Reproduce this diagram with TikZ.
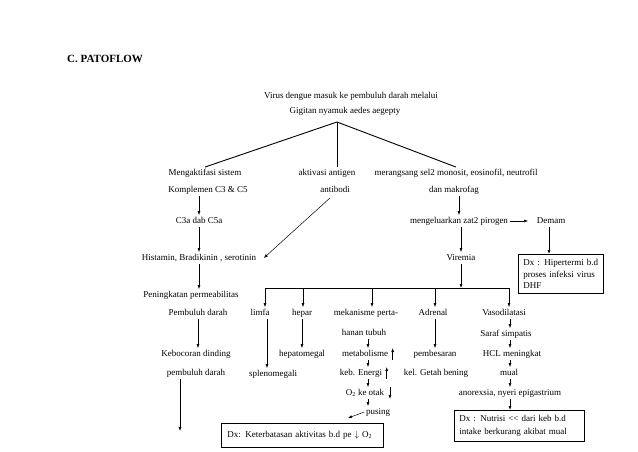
\documentclass[tikz,border=0pt]{standalone}
\usepackage{fontspec}
\setmainfont{Liberation Serif}
\usetikzlibrary{arrows.meta, positioning, calc}
\colorlet{warnaGaris}{black}
\colorlet{warnaTeks}{black}
\tikzset{
  teks/.style={
    inner sep=1.5pt, text height=6.5pt, text depth=2pt,
    font=\fontsize{9}{11}\selectfont, text=warnaTeks
  },
  kotakDx/.style={
    draw=warnaGaris, line width=0.8pt, inner sep=5pt,
    align=left, font=\fontsize{9}{11.5}\selectfont, text=warnaTeks
  },
  judul/.style={font=\fontsize{11}{13}\selectfont\bfseries, inner sep=0pt},
  panah/.style={-{Latex[length=4pt, width=3pt]}, line width=0.6pt, warnaGaris},
  garis/.style={line width=0.7pt, warnaGaris},
  garisCabang/.style={line width=0.9pt, warnaGaris},
}

\begin{document}
\begin{tikzpicture}[x=1pt, y=-1pt]
    \useasboundingbox (0,0) rectangle (638,452);
    % Judul
    \node[judul, anchor=west] (judul) at (67,59) {C. PATOFLOW};

    % Awal
    \node[teks] (virus) at (351,96) {Virus dengue masuk ke pembuluh darah melalui};
    \node[teks] (gigitan) at (345,111) {Gigitan nyamuk aedes aegepty};
    \coordinate (cabang) at (337,122);

    % Cabang kiri
    \node[teks] (kom1) at (205,173) {Mengaktifasi sistem};
    \node[teks] (kom2) at (208,190) {Komplemen C3 \& C5};
    \node[teks] (c3a) at (199,221) {C3a dab C5a};
    \node[teks] (hist) at (199,258) {Histamin, Bradikinin , serotinin};
    \node[teks] (perm1) at (191,295) {Peningkatan permeabilitas};
    \node[teks] (perm2) at (198,313) {Pembuluh darah};
    \node[teks] (boc1) at (196,354) {Kebocoran dinding};
    \node[teks] (boc2) at (196,373) {pembuluh darah};
    \coordinate (ujungKiri) at (180,431);

    % Cabang tengah
    \node[teks] (akt1) at (327,173) {aktivasi antigen};
    \node[teks] (akt2) at (335,190) {antibodi};

    % Cabang kanan
    \node[teks] (rang1) at (456,173) {merangsang sel2 monosit, eosinofil, neutrofil};
    \node[teks] (rang2) at (454,190) {dan makrofag};
    \node[teks] (pirogen) at (459,221) {mengeluarkan zat2 pirogen};
    \node[teks] (demam) at (551,221) {Demam};
    \node[kotakDx, text width=75pt, anchor=north west] (dxHiper) at (518,254)
        {Dx : Hipertermi b.d\\proses infeksi virus\\DHF};
    \node[teks] (viremia) at (461,258) {Viremia};

    % Percabangan Viremia
    \coordinate (batangKiri) at (265,288);
    \coordinate (batangKanan) at (509,288);
    \coordinate (sumbuMek) at (368,0);
    \coordinate (sumbuVaso) at (510,0);
    \node[teks] (limfa) at (260,313) {limfa};
    \node[teks] (hepar) at (302,313) {hepar};
    \node[teks] (mek1) at (366,313) {mekanisme perta-};
    \node[teks] (adrenal) at (433,313) {Adrenal};
    \node[teks] (vaso) at (504,313) {Vasodilatasi};

    \node[teks] (spleno) at (273,374) {splenomegali};
    \node[teks] (hepato) at (302,354) {hepatomegal};
    \node[teks] (mek2) at (364,333) {hanan tubuh};
    \node[teks] (metab) at (365,354) {metabolisme};
    \node[teks] (energi) at (361,373) {keb. Energi};
    \node[teks] (otak) at (365,393) {O\textsubscript{2} ke otak};
    \node[teks] (pusing) at (378,412) {pusing};
    \coordinate (ujungPusing) at (348,418);
    \node[kotakDx, text width=150pt, inner sep=6pt, minimum height=24pt, anchor=north west] (dxAktif) at (221,423)
        {Dx: Keterbatasan aktivitas b.d pe $\downarrow$ O\textsubscript{2}};

    \node[teks] (besar) at (435,354) {pembesaran};
    \node[teks] (getah) at (436,373) {kel. Getah bening};

    \node[teks] (saraf) at (506,334) {Saraf simpatis};
    \node[teks] (hcl) at (512,354) {HCL meningkat};
    \node[teks] (mual) at (509,373) {mual};
    \node[teks] (anor) at (510,393) {anorexsia, nyeri epigastrium};
    \node[kotakDx, text width=120pt, font=\fontsize{9}{13}\selectfont, anchor=north west] (dxNutrisi) at (454,410)
        {Dx : Nutrisi <\kern0pt< dari keb b.d\\intake berkurang akibat mual};

    % Garis cabang
    \draw[garisCabang] (cabang) -- (kom1.north);
    \draw[garisCabang] (cabang) -- (cabang |- akt1.north);
    \draw[garisCabang] (cabang) -- (rang1.north);

    % Panah kiri
    \draw[panah] (c3a.north |- kom2.south) -- (c3a.north);
    \draw[panah] (c3a) -- (hist);
    \draw[panah] (hist.south) -- (hist.south |- perm1.north);
    \draw[panah] (perm2.south) -- (perm2.south |- boc1.north);
    \draw[panah] (boc2.south -| ujungKiri) -- (ujungKiri);
    \draw[panah, line width=0.5pt] ([xshift=-5pt, yshift=-2pt]akt2.south) -- ([xshift=6pt]hist.east);

    % Panah kanan
    \draw[panah] (pirogen.north |- rang2.south) -- (pirogen.north);
    \draw[panah, shorten >=7pt] (pirogen.east) -- (demam.west);
    \draw[panah] ([xshift=-2pt]demam.south) -- ([xshift=-2pt]demam.south |- dxHiper.north);
    \draw[panah] (viremia.north |- pirogen.south) -- (viremia.north);
    \draw[panah] (viremia.south) -- (viremia.south |- batangKiri);
    \draw[garis] (batangKiri) -- (batangKanan);
    \foreach \n/\x in {limfa/265, hepar/303, mek1/372, adrenal/435, vaso/509}
      \draw[panah] (\x,288) -- (\x,288 |- \n.north);

    \draw[panah] ([xshift=7pt]limfa.south) -- ([xshift=7pt]limfa.south |- spleno.north);
    \draw[panah] (hepar.south) -- (hepar.south |- hepato.north);
    \draw[panah] (sumbuMek |- mek2.south) -- (sumbuMek |- metab.north);
    \draw[panah] (sumbuMek |- metab.south) -- (sumbuMek |- energi.north);
    \draw[panah] (sumbuMek |- energi.south) -- (sumbuMek |- otak.north);
    \draw[panah] (sumbuMek |- otak.south) -- (sumbuMek |- pusing.north);
    \draw[panah, line width=0.5pt] (pusing.west) -- (ujungPusing);
    \draw[panah] ([xshift=3pt]metab.south east) -- ([xshift=3pt]metab.north east);
    \draw[panah] ([xshift=3pt]energi.south east) -- ([xshift=3pt]energi.north east);
    \draw[panah] ([xshift=4pt]otak.north east) -- ([xshift=4pt]otak.south east);
    \draw[panah] (besar.north |- adrenal.south) -- (besar.north);

    \draw[panah] (sumbuVaso |- vaso.south) -- (sumbuVaso |- saraf.north);
    \draw[panah] (sumbuVaso |- saraf.south) -- (sumbuVaso |- hcl.north);
    \draw[panah] (sumbuVaso |- hcl.south) -- (sumbuVaso |- mual.north);
    \draw[panah] (sumbuVaso |- mual.south) -- (sumbuVaso |- anor.north);
    \draw[panah] (sumbuVaso |- anor.south) -- (sumbuVaso |- dxNutrisi.north);
  \end{tikzpicture}
\end{document}
